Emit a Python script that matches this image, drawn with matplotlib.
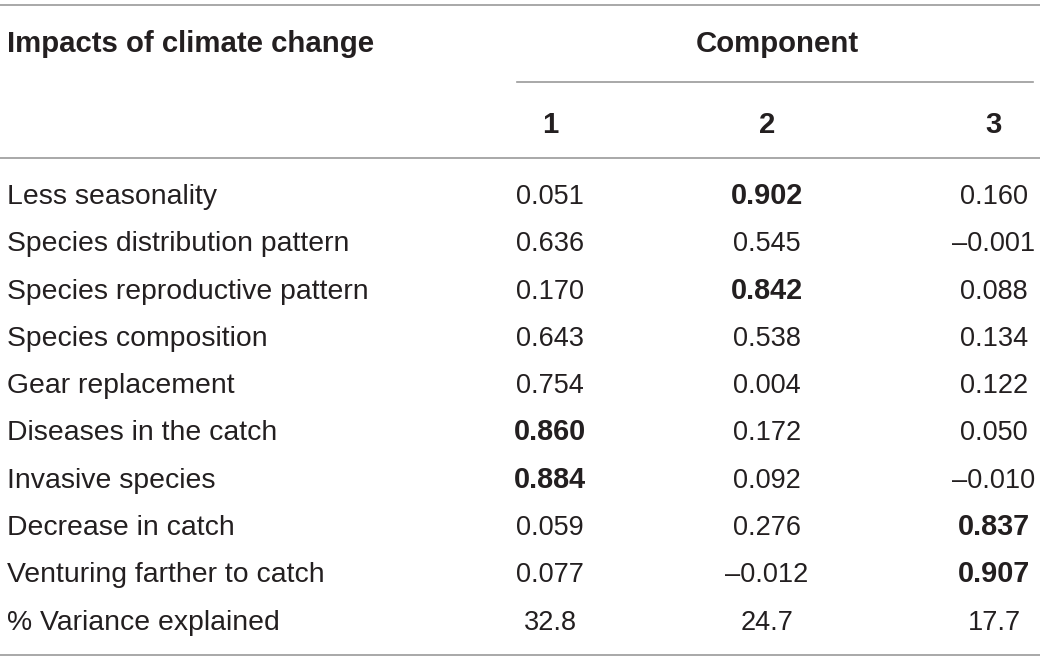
import matplotlib
matplotlib.use("Agg")
import matplotlib.pyplot as plt

plt.rcParams['font.family'] = ['Liberation Sans', 'DejaVu Sans']

# table contents
row_labels = ["Less seasonality", "Species distribution pattern",
              "Species reproductive pattern", "Species composition",
              "Gear replacement", "Diseases in the catch", "Invasive species",
              "Decrease in catch", "Venturing farther to catch",
              "% Variance explained"]
comp1 = ["0.051", "0.636", "0.170", "0.643", "0.754", "0.860", "0.884", "0.059", "0.077", "32.8"]
comp2 = ["0.902", "0.545", "0.842", "0.538", "0.004", "0.172", "0.092", "0.276", "–0.012", "24.7"]
comp3 = ["0.160", "–0.001", "0.088", "0.134", "0.122", "0.050", "–0.010", "0.837", "0.907", "17.7"]
# bold cells (row, column)
bold_cells = {(0, 2), (2, 2), (5, 1), (6, 1), (7, 3), (8, 3)}

col_x = [550, 767, 994]
row_base0 = 204
row_step = 47.3
fs_label = 20.4
fs_num = 19.5
fs_bold_num = 20.8
fs_head = 21.2
line_col = '#9a9a9a'
txt_col = '#231f20'

fig = plt.figure(figsize=(10.4, 6.61), dpi=100)
ax = fig.add_axes([0, 0, 1, 1])
ax.set_xlim(0, 1040)
ax.set_ylim(661, 0)
ax.axis('off')

# rules
ax.plot([0, 1040], [5, 5], color=line_col, lw=1.2)
ax.plot([517, 1033], [82, 82], color=line_col, lw=1.2)
ax.plot([0, 1040], [158, 158], color=line_col, lw=1.2)
ax.plot([0, 1040], [655, 655], color=line_col, lw=1.2)

# header
ax.text(7, 52, "Impacts of climate change", fontsize=fs_head, fontweight='bold',
        ha='left', va='baseline', color=txt_col)
ax.text(777, 52, "Component", fontsize=fs_head, fontweight='bold',
        ha='center', va='baseline', color=txt_col)
for j, x in enumerate(col_x):
    ax.text(x, 133, str(j + 1), fontsize=fs_head, fontweight='bold',
            ha='center', va='baseline', color=txt_col)

# body
for i, label in enumerate(row_labels):
    y = row_base0 + i * row_step
    ax.text(7, y, label, fontsize=fs_label, ha='left', va='baseline', color=txt_col)
    for j, vals in enumerate([comp1, comp2, comp3]):
        if (i, j + 1) in bold_cells:
            ax.text(col_x[j], y, vals[i], fontsize=fs_bold_num, fontweight='bold',
                    ha='center', va='baseline', color=txt_col)
        else:
            ax.text(col_x[j], y, vals[i], fontsize=fs_num,
                    ha='center', va='baseline', color=txt_col)

fig.savefig("out.png", dpi=100)
